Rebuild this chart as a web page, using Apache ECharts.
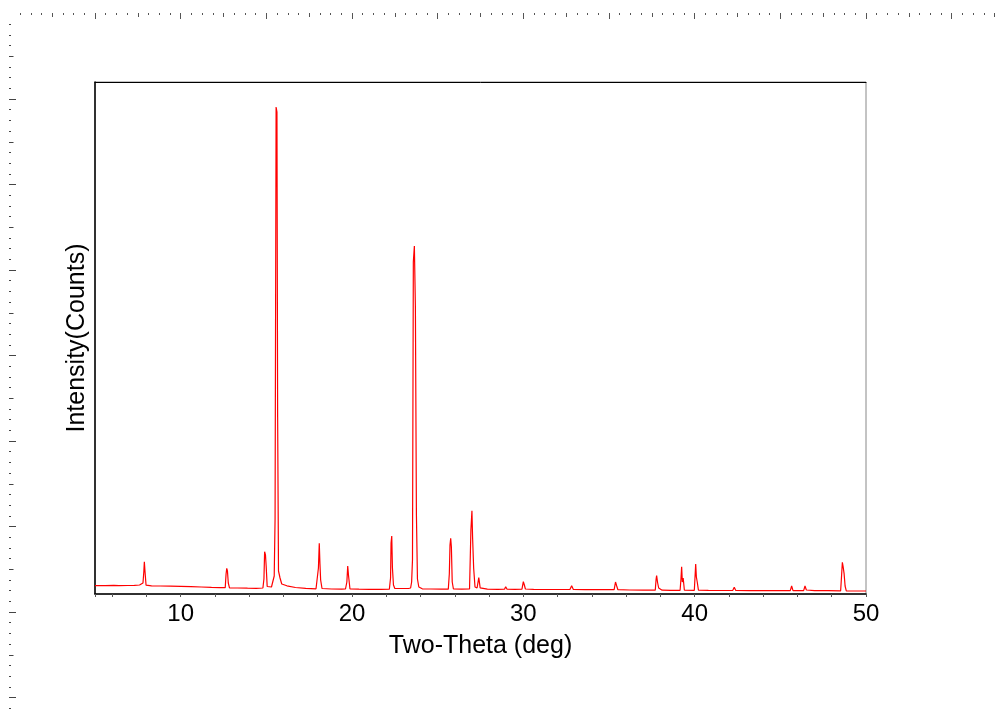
<!DOCTYPE html>
<html>
<head>
<meta charset="utf-8">
<title>XRD</title>
<script src="https://cdn.jsdelivr.net/npm/echarts@6/dist/echarts.min.js"></script>
<style>
    html, body {margin: 0; padding: 0; background: #fff;}
    #main {width: 999px; height: 713px;}
</style>
</head>
<body>
<div id="main"></div>
<script>
// 扫描数据 [2θ, 强度]，按区段读取
var scanLow = [
    [5.00, 83], [5.60, 84], [6.10, 87], [6.40, 84], [6.90, 85], [7.30, 86], [7.60, 90], [7.70, 92],
    [7.80, 110], [7.85, 223], [7.88, 323], [7.92, 223], [7.98, 88], [8.30, 82], [8.80, 80], [9.40, 78],
    [10.00, 76], [10.60, 74], [11.20, 70], [11.80, 66], [12.30, 64], [12.60, 63], [12.65, 200], [12.69, 257],
    [12.73, 230], [12.78, 110], [12.85, 62], [13.30, 60], [13.90, 58], [14.40, 57], [14.80, 60], [14.86, 150],
    [14.90, 423], [14.95, 390], [14.99, 280], [15.05, 75], [15.30, 70], [15.46, 180], [15.51, 750], [15.57, 4870],
    [15.62, 4820], [15.66, 1770], [15.71, 230], [15.80, 160], [15.90, 100], [16.20, 82], [16.70, 65], [17.30, 56],
    [17.90, 52], [17.98, 55], [18.04, 260], [18.09, 507], [18.13, 300], [18.17, 140], [18.25, 55], [18.80, 50],
    [19.40, 48], [19.62, 50], [19.70, 120], [19.75, 280], [19.80, 180], [19.88, 52], [20.40, 48], [21.00, 47],
    [21.70, 47]
];
var scanMid = [
    [22.18, 48], [22.25, 160], [22.28, 510], [22.32, 580], [22.36, 260], [22.42, 90], [22.50, 55], [22.90, 55],
    [23.30, 55], [23.42, 60], [23.48, 120], [23.53, 340], [23.58, 3323], [23.64, 3480], [23.70, 2873], [23.76, 790],
    [23.82, 150], [23.90, 70], [24.10, 52], [24.60, 50], [25.20, 48], [25.62, 48], [25.68, 200], [25.72, 490],
    [25.76, 557], [25.80, 473], [25.85, 120], [25.92, 50], [26.40, 48], [26.86, 50], [26.94, 640], [27.00, 833],
    [27.04, 557], [27.10, 260], [27.18, 70], [27.30, 60], [27.40, 163], [27.48, 62], [27.90, 48], [28.50, 47],
    [28.90, 48], [28.97, 73], [29.05, 48], [29.50, 47], [29.92, 48], [30.00, 123], [30.06, 90], [30.12, 50]
];
var scanHigh = [
    [30.60, 46], [31.30, 45], [32.00, 45], [32.72, 45], [32.82, 83], [32.92, 45], [33.60, 44], [34.40, 43],
    [35.30, 43], [35.38, 120], [35.45, 80], [35.52, 43], [36.20, 40], [37.00, 38], [37.70, 38], [37.75, 150],
    [37.78, 183], [37.84, 110], [37.90, 60], [38.00, 52], [38.10, 38], [38.60, 37], [39.15, 37], [39.20, 150],
    [39.24, 273], [39.28, 120], [39.33, 160], [39.40, 38], [39.98, 37], [40.03, 200], [40.06, 300], [40.10, 170],
    [40.15, 120], [40.22, 38], [40.80, 36], [41.60, 35], [42.22, 35], [42.31, 67], [42.40, 35], [43.20, 34],
    [44.00, 33], [44.80, 33], [45.58, 33], [45.66, 80], [45.74, 33], [46.36, 33], [46.44, 80], [46.52, 40],
    [47.00, 33], [47.62, 33], [47.70, 50], [47.78, 33], [48.52, 32], [48.58, 200], [48.62, 317], [48.66, 280],
    [48.72, 207], [48.78, 80], [48.85, 32], [49.30, 30], [50.00, 30]
];

var xRange = [5, 50];       // 2θ 范围
var yRange = [0, 5120];     // 强度范围
var xName = 'Two-Theta (deg)';
var yName = 'Intensity(Counts)';

// 标尺刻度（单位与2θ一致）[min, max, interval, 长度]
var rulerTop = [[0.625, 57.5, 0.625, 2], [2.5, 57.5, 2.5, 4], [5, 55, 5, 6]];
var rulerLeft = [[0.625, 40.625, 0.625, 2], [2.5, 40, 2.5, 4.5], [5, 40, 5, 7]];

var plotLeft = 95, plotRight = 866, plotTop = 82, plotBottom = 594;
var pxPerDeg = (plotRight - plotLeft) / (xRange[1] - xRange[0]);
var font = 'Liberation Sans, Arial, sans-serif';

var grids = [{
    left: plotLeft, top: plotTop, width: plotRight - plotLeft, height: plotBottom - plotTop,
    show: true, borderColor: '#888', borderWidth: 1
}];
var xAxes = [{
    type: 'value', gridIndex: 0, min: xRange[0], max: xRange[1], splitNumber: 5,
    name: xName, nameLocation: 'middle', nameGap: 40,
    nameTextStyle: {fontFamily: font, fontSize: 25, color: '#000'},
    axisLine: {show: true, onZero: false, lineStyle: {color: '#000', width: 1.5}},
    axisTick: {show: true, length: 3, lineStyle: {color: '#555'}},
    minorTick: {show: true, splitNumber: 5, length: 3, lineStyle: {color: '#555'}},
    axisLabel: {showMinLabel: false, margin: 8, fontFamily: font, fontSize: 24, color: '#000'},
    splitLine: {show: false}
}, {
    // 上边框
    type: 'value', gridIndex: 0, position: 'top', min: xRange[0], max: xRange[1],
    axisLine: {show: true, onZero: false, lineStyle: {color: '#000', width: 1}},
    axisTick: {show: false}, axisLabel: {show: false}, splitLine: {show: false}
}];
var yAxes = [{
    type: 'value', gridIndex: 0, min: yRange[0], max: yRange[1],
    name: yName, nameLocation: 'middle', nameGap: 5,
    nameTextStyle: {fontFamily: font, fontSize: 25, color: '#000'},
    axisLine: {show: true, onZero: false, lineStyle: {color: '#000', width: 1.5}},
    axisTick: {show: false}, axisLabel: {show: false}, splitLine: {show: false}
}];

function hiddenAxis(gi) {
    return {type: 'value', gridIndex: gi, show: false, min: 0, max: 1};
}

// 顶部标尺（网格底边在 y=13，刻度向下）
rulerTop.forEach(function (r) {
    var gi = grids.length;
    grids.push({left: plotLeft + (r[0] - xRange[0]) * pxPerDeg, top: -7, width: (r[1] - r[0]) * pxPerDeg, height: 20});
    xAxes.push({
        type: 'value', gridIndex: gi, position: 'bottom', min: r[0], max: r[1], interval: r[2],
        axisLine: {show: false}, axisLabel: {show: false}, splitLine: {show: false},
        axisTick: {show: true, inside: false, length: r[3], lineStyle: {color: '#555', width: 1}}
    });
    yAxes.push(hiddenAxis(gi));
});

// 左侧标尺
rulerLeft.forEach(function (r) {
    var gi = grids.length;
    grids.push({left: 9, top: 13.5 + r[0] * 17.1, width: 20, height: (r[1] - r[0]) * 17.1});
    yAxes.push({
        type: 'value', gridIndex: gi, position: 'left', inverse: true, min: r[0], max: r[1], interval: r[2],
        axisLine: {show: false}, axisLabel: {show: false}, splitLine: {show: false},
        axisTick: {show: true, inside: true, length: r[3], lineStyle: {color: '#444', width: 1}}
    });
    xAxes.push(hiddenAxis(gi));
});

var myChart = echarts.init(document.getElementById('main'), null, {renderer: 'canvas'});
myChart.setOption({
    animation: false,
    backgroundColor: '#fff',
    grid: grids,
    xAxis: xAxes,
    yAxis: yAxes,
    series: [{
        type: 'line',
        xAxisIndex: 0,
        yAxisIndex: 0,
        data: scanLow.concat(scanMid, scanHigh),
        showSymbol: false,
        symbol: 'none',
        lineStyle: {color: '#ff0000', width: 1.2},
        silent: true
    }]
});
</script>
</body>
</html>
